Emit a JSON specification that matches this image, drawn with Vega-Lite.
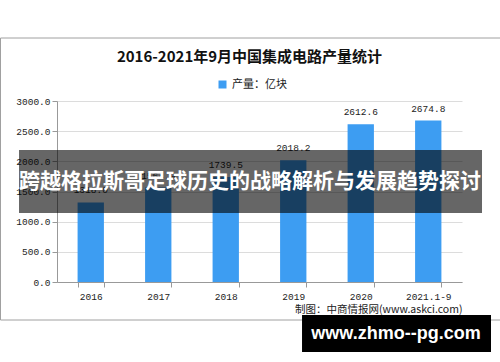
{
  "$schema": "https://vega.github.io/schema/vega-lite/v6.json",
  "width": 405,
  "height": 181,
  "autosize": "none",
  "padding": {"left": 57, "top": 101, "right": 38, "bottom": 80},
  "background": "white",
  "config": {
    "view": {"stroke": null},
    "axisY": {"labelOverlap": false, "labelFont": "Liberation Mono", "labelFontSize": 9.5, "labelColor": "#222", "labelPadding": 2, "domainColor": "#999", "tickColor": "#999", "tickSize": 5, "gridColor": "#dcdcdc"},
    "legend": {"orient": "none", "legendX": 160, "legendY": -22, "padding": 0, "symbolType": "square", "symbolSize": 64, "labelFont": "Noto Sans CJK SC", "labelFontSize": 11, "labelColor": "#222", "title": null}
  },
  "title": {
    "text": "2016-2021年9月中国集成电路产量统计",
    "font": "Noto Sans CJK SC",
    "fontSize": 15,
    "fontWeight": "bold",
    "color": "#111",
    "anchor": "middle",
    "frame": "group",
    "dx": -10,
    "offset": -27
  },
  "datasets": {
    "prod": [
      {"year": "2016", "value": 1318.0},
      {"year": "2017", "value": 1564.9},
      {"year": "2018", "value": 1739.5},
      {"year": "2019", "value": 2018.2},
      {"year": "2020", "value": 2612.6},
      {"year": "2021.1-9", "value": 2674.8}
    ],
    "one": [{"banner": "跨越格拉斯哥足球历史的战略解析与发展趋势探讨", "site": "www.zhmo--pg.com"}]
  },
  "layer": [
    {
      "data": {"name": "prod"},
      "mark": {"type": "bar"},
      "encoding": {
        "x": {
          "field": "year", "type": "nominal", "sort": null,
          "scale": {"paddingInner": 0.61, "paddingOuter": 0.305},
          "axis": {
            "title": "制图：中商情报网(www.askci.com)",
            "titleAnchor": "end", "titleFont": "Noto Sans CJK SC", "titleFontSize": 10.5, "titleFontWeight": "normal", "titleColor": "#222", "titlePadding": 4,
            "labelAngle": 0, "labelFont": "Liberation Mono", "labelFontSize": 9.5, "labelColor": "#222", "labelPadding": 4,
            "tickBand": "extent", "domainColor": "#999", "tickColor": "#999", "tickSize": 5, "grid": false
          }
        },
        "y": {
          "field": "value", "type": "quantitative",
          "scale": {"domain": [0, 3000]},
          "axis": {"title": null, "values": [0, 500, 1000, 1500, 2000, 2500, 3000], "format": ".1f", "labelOverlap": false}
        },
        "color": {"datum": "产量：亿块", "type": "nominal", "scale": {"range": ["#3d9df2"]}}
      }
    },
    {
      "data": {"name": "one"},
      "mark": {"type": "rect", "fill": null, "stroke": "#a0a0a0", "strokeWidth": 1},
      "encoding": {
        "x": {"datum": -0.1395, "type": "quantitative", "scale": {"domain": [0, 1]}, "axis": null},
        "x2": {"datum": 1.12},
        "y": {"datum": 4044, "type": "quantitative", "scale": {"domain": [0, 3000]}, "axis": {"title": null, "values": [0, 500, 1000, 1500, 2000, 2500, 3000], "format": ".1f", "labelOverlap": false}},
        "y2": {"datum": -630}
      }
    },
    {
      "data": {"name": "prod"},
      "mark": {"type": "text", "font": "Liberation Mono", "fontSize": 9.5, "color": "#222", "dy": -12},
      "encoding": {
        "x": {"field": "year", "type": "nominal", "sort": null, "scale": {"paddingInner": 0.61, "paddingOuter": 0.305}, "axis": null},
        "y": {"field": "value", "type": "quantitative", "scale": {"domain": [0, 3000]}, "axis": {"title": null, "values": [0, 500, 1000, 1500, 2000, 2500, 3000], "format": ".1f", "labelOverlap": false}},
        "text": {"field": "value", "type": "quantitative", "format": ".1f"}
      }
    },
    {
      "data": {"name": "one"},
      "mark": {"type": "rect", "fill": "#000", "opacity": 0.6},
      "encoding": {
        "x": {"datum": -0.0938, "type": "quantitative", "scale": {"domain": [0, 1]}, "axis": null},
        "x2": {"datum": 1.0494},
        "y": {"datum": 2188, "type": "quantitative", "scale": {"domain": [0, 3000]}, "axis": {"title": null, "values": [0, 500, 1000, 1500, 2000, 2500, 3000], "format": ".1f", "labelOverlap": false}},
        "y2": {"datum": 1144}
      }
    },
    {
      "data": {"name": "one"},
      "mark": {"type": "text", "font": "Noto Sans CJK SC", "fontSize": 21, "fontWeight": "bold", "color": "white", "align": "center", "baseline": "middle"},
      "encoding": {
        "x": {"datum": 0.4765, "type": "quantitative", "scale": {"domain": [0, 1]}, "axis": null},
        "y": {"datum": 1657, "type": "quantitative", "scale": {"domain": [0, 3000]}, "axis": {"title": null, "values": [0, 500, 1000, 1500, 2000, 2500, 3000], "format": ".1f", "labelOverlap": false}},
        "text": {"field": "banner"}
      }
    },
    {
      "data": {"name": "one"},
      "mark": {"type": "rect", "fill": "#000"},
      "encoding": {
        "x": {"datum": 0.605, "type": "quantitative", "scale": {"domain": [0, 1]}, "axis": null},
        "x2": {"datum": 1.0716},
        "y": {"datum": -547, "type": "quantitative", "scale": {"domain": [0, 3000]}, "axis": {"title": null, "values": [0, 500, 1000, 1500, 2000, 2500, 3000], "format": ".1f", "labelOverlap": false}},
        "y2": {"datum": -1160}
      }
    },
    {
      "data": {"name": "one"},
      "mark": {"type": "text", "font": "Liberation Sans", "fontSize": 18, "fontWeight": "bold", "color": "white", "align": "center", "baseline": "middle"},
      "encoding": {
        "x": {"datum": 0.837, "type": "quantitative", "scale": {"domain": [0, 1]}, "axis": null},
        "y": {"datum": -862, "type": "quantitative", "scale": {"domain": [0, 3000]}, "axis": {"title": null, "values": [0, 500, 1000, 1500, 2000, 2500, 3000], "format": ".1f", "labelOverlap": false}},
        "text": {"field": "site"}
      }
    }
  ],
  "resolve": {"scale": {"x": "independent"}}
}
